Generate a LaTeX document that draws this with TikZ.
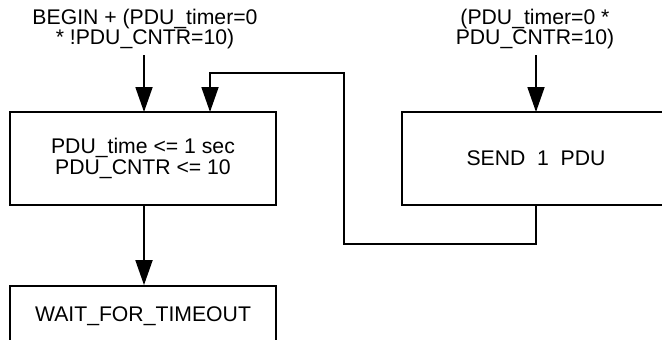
\documentclass[tikz,border=0pt]{standalone}
\usepackage{fontspec}
\setmainfont{Liberation Sans}
\usetikzlibrary{arrows.meta}
\begin{document}
\begin{tikzpicture}[x=1bp,y=-1bp,
  every node/.style={font=\fontsize{21.2bp}{20.8bp}\selectfont, inner sep=0pt},
  statebox/.style={draw, line width=1.8bp, rectangle, align=center},
  lbl/.style={align=center},
  arr/.style={line width=1.8bp, -{Triangle[width=17bp,length=25bp]}}]
\useasboundingbox (0,0) rectangle (662,339);
\clip (0,0) rectangle (662,339);
\node[statebox, minimum width=266bp, minimum height=93bp] (box1) at (143,158.5)
  {PDU\_time <= 1 sec\\PDU\_CNTR <= 10};
\node[statebox, minimum width=268bp, minimum height=93bp] (box2) at (536,158.5)
  {SEND\ \ 1\ \ PDU};
\node[statebox, minimum width=266bp, minimum height=61bp] (box3) at (143,316.5)
  {WAIT\_FOR\_TIMEOUT};
\node[lbl] (l1) at (145,29) {BEGIN + (PDU\_timer=0\\* !PDU\_CNTR=10)};
\node[lbl] (l2) at (535,29) {(PDU\_timer=0 *\\PDU\_CNTR=10)};
\coordinate (s1) at (144,55);
\coordinate (s2) at (536,55);
\coordinate (e1) at (144,112);
\coordinate (e2) at (536,112);
\coordinate (la) at (536,244);
\coordinate (lb) at (344,244);
\coordinate (lc) at (344,73);
\coordinate (ld) at (210,73);
\coordinate (le) at (210,112);
\draw[arr] (s1) -- (e1);
\draw[arr] (s2) -- (e2);
\draw[arr] (box2.south) -- (la) -- (lb) -- (lc) -- (ld) -- (le);
\draw[arr] (box1.south -| e1) -- (box3.north -| e1);
\end{tikzpicture}
\end{document}
